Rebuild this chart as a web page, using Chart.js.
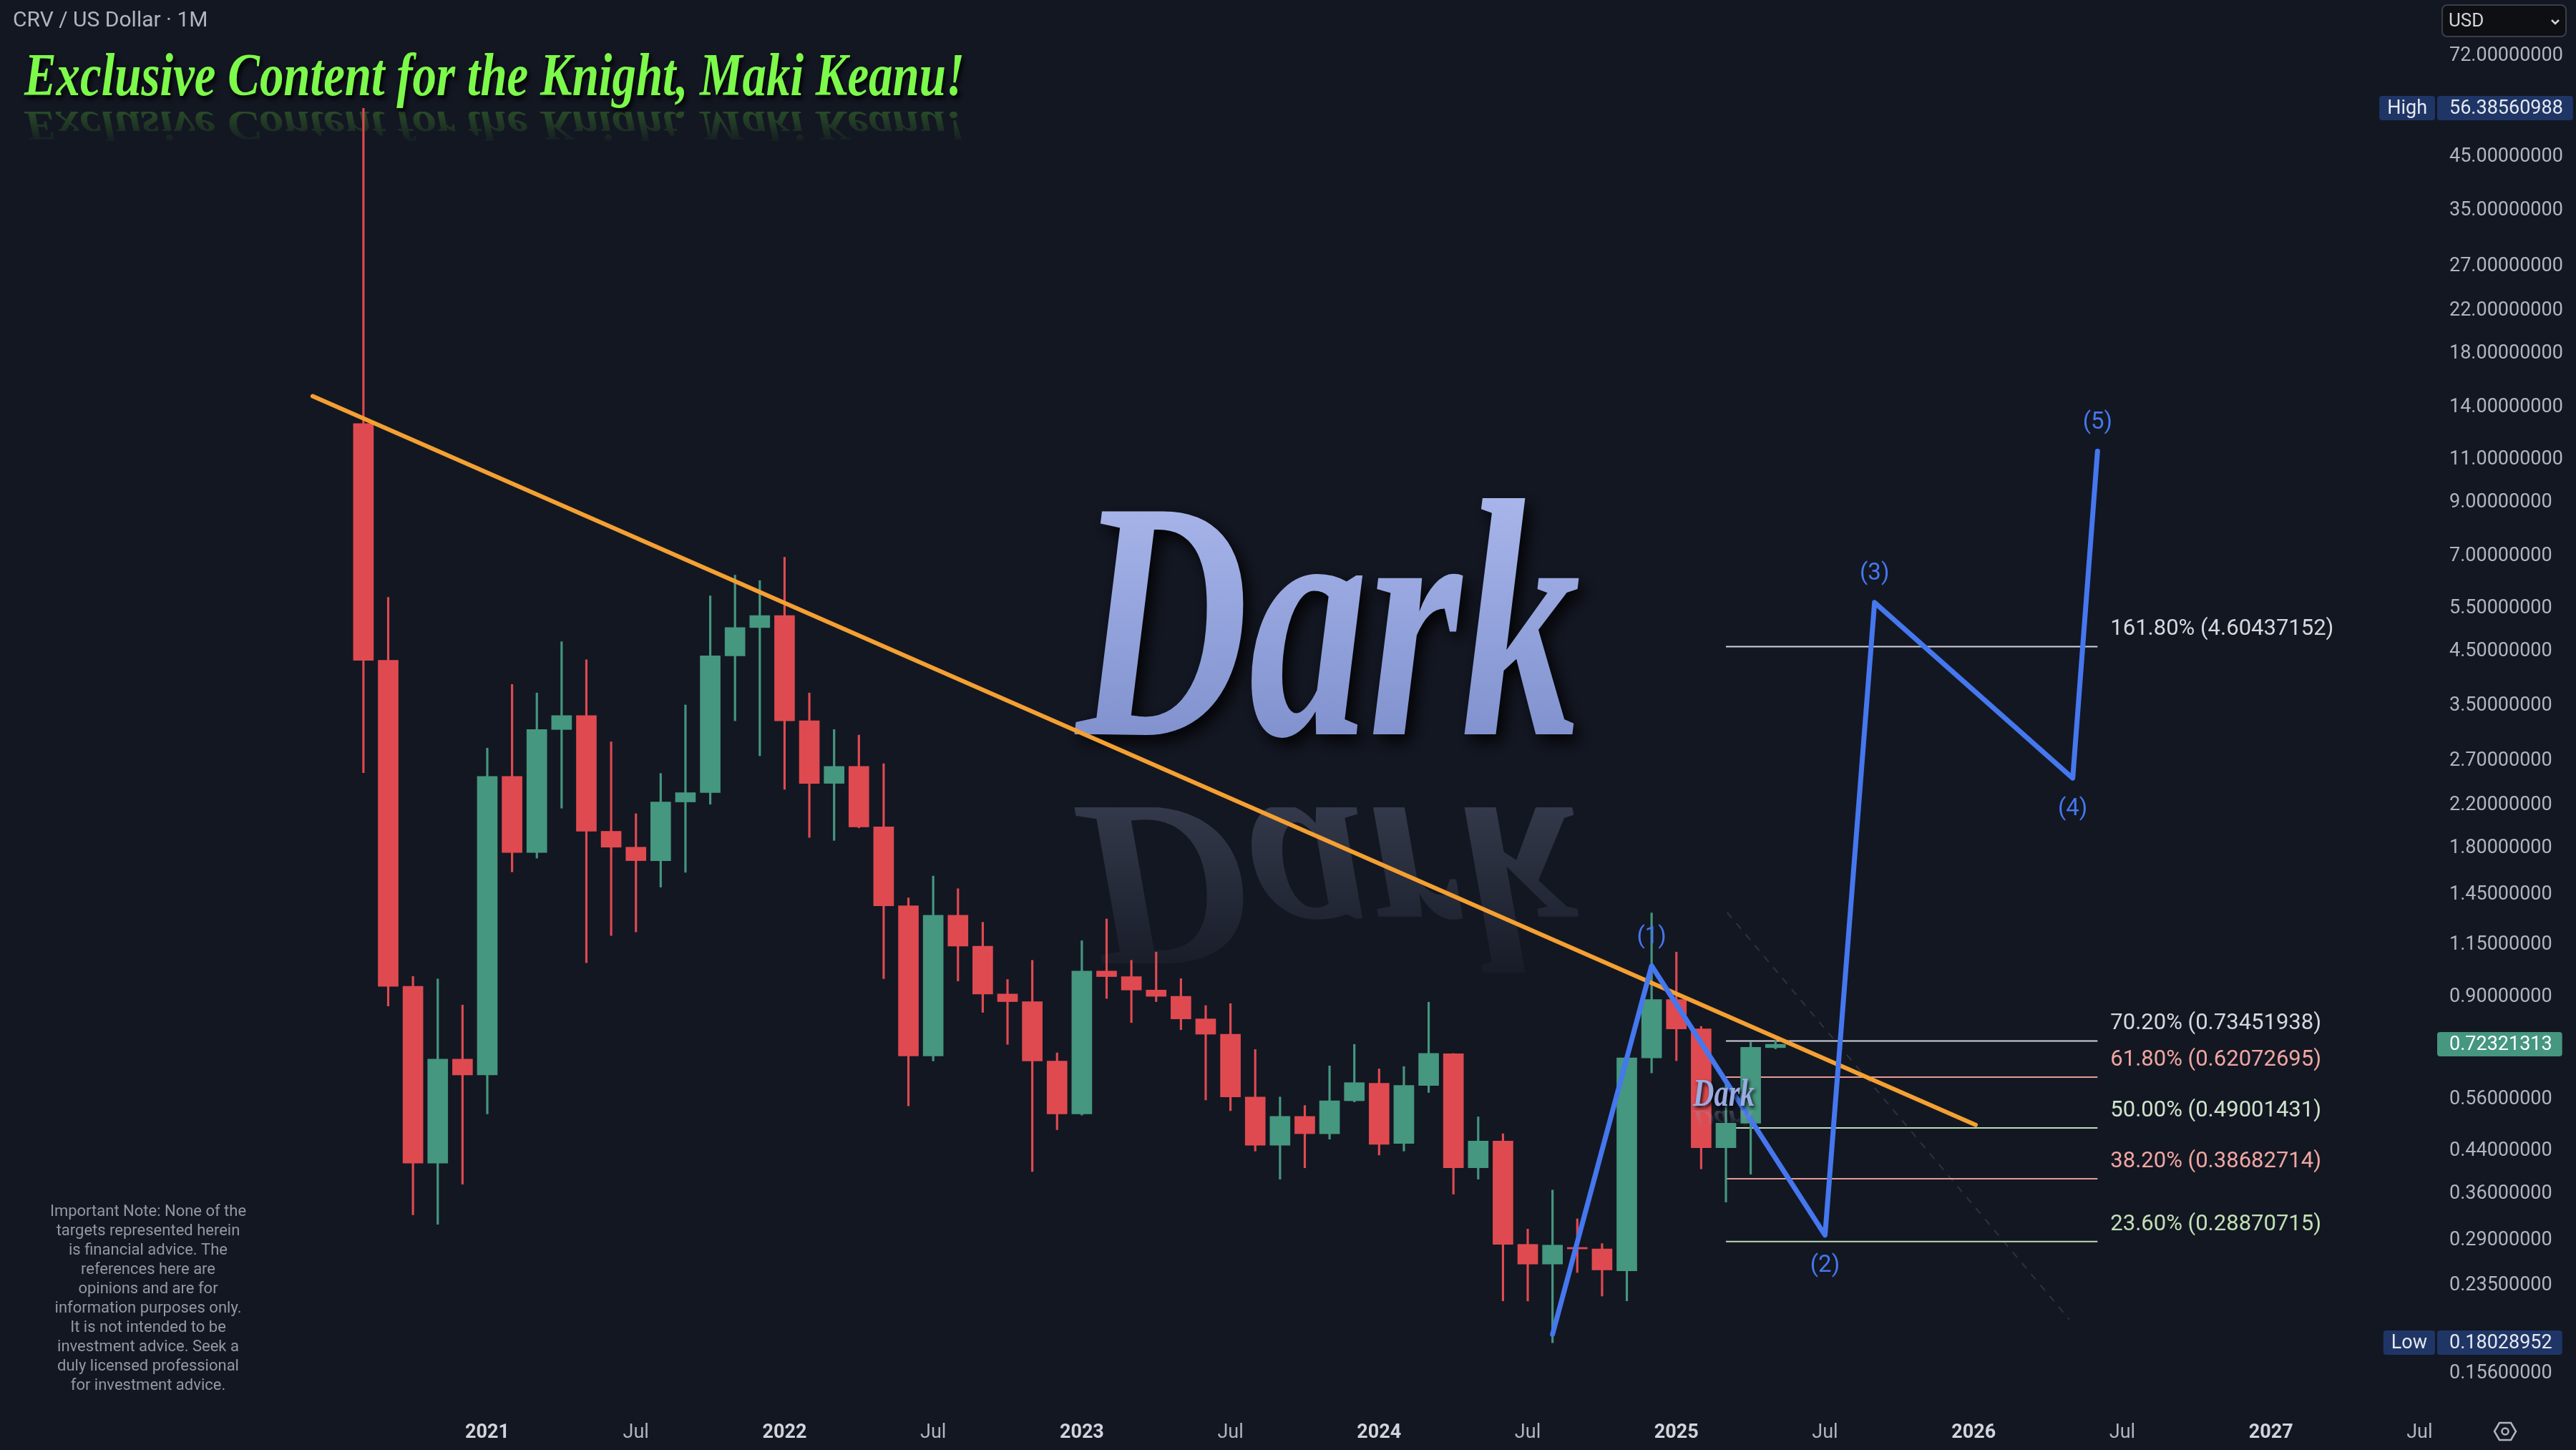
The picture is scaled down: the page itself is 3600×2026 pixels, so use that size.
<!DOCTYPE html>
<html>
<head>
<meta charset="utf-8">
<title>CRV / US Dollar · 1M</title>
<script src="https://cdn.jsdelivr.net/npm/chart.js@4.4.1/dist/chart.umd.min.js"></script>
<style>
  html, body { margin: 0; padding: 0; background: #131722; overflow: hidden; }
  #wrap { position: relative; width: 3600px; height: 2026px; }
</style>
</head>
<body>
<div id="wrap"><canvas id="chart"></canvas></div>
<script>
// Monthly candles, CRV / USD (index 0 = Aug 2020)
const months = [
  '2020-08','2020-09','2020-10','2020-11','2020-12',
  '2021-01','2021-02','2021-03','2021-04','2021-05','2021-06','2021-07','2021-08','2021-09','2021-10','2021-11','2021-12',
  '2022-01','2022-02','2022-03','2022-04','2022-05','2022-06','2022-07','2022-08','2022-09','2022-10','2022-11','2022-12',
  '2023-01','2023-02','2023-03','2023-04','2023-05','2023-06','2023-07','2023-08','2023-09','2023-10','2023-11','2023-12',
  '2024-01','2024-02','2024-03','2024-04','2024-05','2024-06','2024-07','2024-08','2024-09','2024-10','2024-11','2024-12',
  '2025-01','2025-02','2025-03','2025-04','2025-05'
];
const opens = [
  13.0, 4.32, 0.947, 0.416, 0.675,
  0.627, 2.516, 1.765, 3.13, 3.34, 1.949, 1.81, 1.70, 2.234, 2.333, 4.41, 5.03,
  5.32, 3.26, 2.436, 2.636, 1.989, 1.378, 0.685, 1.319, 1.142, 0.914, 0.882, 0.669,
  0.523, 1.017, 0.991, 0.931, 0.904, 0.814, 0.758, 0.566, 0.452, 0.517, 0.477, 0.556,
  0.603, 0.456, 0.597, 0.692, 0.407, 0.461, 0.285, 0.260, 0.281, 0.279, 0.252, 0.679,
  0.891, 0.777, 0.447, 0.501, 0.712
];
const highs = [
  56.38560988, 5.79, 0.992, 0.98, 0.868,
  2.87, 3.86, 3.71, 4.71, 4.33, 2.955, 2.115, 2.551, 3.51, 5.83, 6.42, 6.26,
  6.98, 3.71, 3.13, 3.05, 2.67, 1.43, 1.583, 1.492, 1.276, 0.978, 1.069, 0.695,
  1.171, 1.296, 1.069, 1.111, 0.982, 0.866, 0.874, 0.706, 0.566, 0.544, 0.654, 0.723,
  0.645, 0.652, 0.880, 0.693, 0.516, 0.477, 0.306, 0.367, 0.321, 0.286, 0.679, 1.333,
  1.111, 0.786, 0.60, 0.730, 0.735
];
const lows = [
  2.56, 0.864, 0.327, 0.313, 0.377,
  0.523, 1.614, 1.72, 2.17, 1.057, 1.20, 1.22, 1.503, 1.61, 2.21, 3.26, 2.77,
  2.37, 1.894, 1.868, 1.98, 0.982, 0.543, 0.669, 0.971, 0.839, 0.723, 0.400, 0.486,
  0.52, 0.895, 0.800, 0.882, 0.774, 0.558, 0.531, 0.44, 0.386, 0.407, 0.465, 0.553,
  0.432, 0.44, 0.578, 0.360, 0.386, 0.219, 0.219, 0.18028952, 0.250, 0.224, 0.219, 0.633,
  0.67, 0.405, 0.347, 0.395, 0.708
];
const closes = [
  4.32, 0.947, 0.416, 0.675, 0.627,
  2.516, 1.765, 3.13, 3.34, 1.949, 1.81, 1.70, 2.234, 2.333, 4.41, 5.03, 5.32,
  3.26, 2.436, 2.636, 1.989, 1.378, 0.685, 1.319, 1.142, 0.914, 0.882, 0.669, 0.523,
  1.017, 0.991, 0.931, 0.904, 0.814, 0.758, 0.566, 0.452, 0.517, 0.477, 0.556, 0.605,
  0.454, 0.597, 0.693, 0.407, 0.461, 0.285, 0.260, 0.284, 0.279, 0.253, 0.679, 0.891,
  0.777, 0.447, 0.501, 0.713, 0.72321313
];

// Time axis labels (positions in candle index)
const xTickPos = [5, 11, 17, 23, 29, 35, 41, 47, 53, 59, 65, 71, 77, 83];
const xTickText = ['2021', 'Jul', '2022', 'Jul', '2023', 'Jul', '2024', 'Jul', '2025', 'Jul', '2026', 'Jul', '2027', 'Jul'];

// Price axis labels
const yTicks = [72, 45, 35, 27, 22, 18, 14, 11, 9, 7, 5.5, 4.5, 3.5, 2.7, 2.2, 1.8, 1.45, 1.15,
  0.9, 0.7, 0.56, 0.44, 0.36, 0.29, 0.235, 0.18, 0.156];

// Descending trendline
const trendX = [-2.05, 65.08];
const trendY = [14.77, 0.497];

// Elliott wave projection
const waveX = [48, 52, 59, 61, 69, 70];
const waveY = [0.1875, 1.042, 0.2974, 5.653, 2.496, 11.43];
const waveLabels = ['', '(1)', '(2)', '(3)', '(4)', '(5)'];

// Fibonacci levels
const fibRatios = [1.618, 0.702, 0.618, 0.5, 0.382, 0.236];
const fibValues = [4.60437152, 0.73451938, 0.62072695, 0.49001431, 0.38682714, 0.28870715];
const fibX = [55, 70];

// faint dashed guide
const guideX = [55.05, 68.86];
const guideY = [1.336, 0.201];

const disclaimer = [
  'Important Note: None of the',
  'targets represented herein',
  'is financial advice. The',
  'references here are',
  'opinions and are for',
  'information purposes only.',
  'It is not intended to be',
  'investment advice. Seek a',
  'duly licensed professional',
  'for investment advice.'
];

const BG = '#131722';
const RED = '#DF4A50';
const GREEN = '#45977F';
const ORANGE = '#F4A032';
const BLUE = '#4577EE';
const AXIS_TXT = '#b2b5be';
const fibLineColors = ['#d1d4dc', '#d1d4dc', '#e89a97', '#bcdcb6', '#e89a97', '#bcdcb6'];
const fibTextColors = ['#d6d8de', '#d6d8de', '#f0a6a2', '#cfe3cb', '#f0a6a2', '#c2e0b6'];

const candleColors = closes.map((c, i) => c >= opens[i] ? GREEN : RED);
const wicks = months.map((m, i) => ({ x: i, y: [lows[i], highs[i]] }));
const bodies = months.map((m, i) => ({ x: i, y: [Math.min(opens[i], closes[i]), Math.max(opens[i], closes[i])] }));

const fibDatasets = fibValues.map((v, k) => ({
  type: 'line',
  label: 'fib ' + fibRatios[k],
  data: fibX.map(x => ({ x: x, y: v })),
  borderColor: fibLineColors[k],
  borderWidth: 2,
  pointRadius: 0,
  order: 20
}));

// text with a given cap height, squeezed to a width
function fitText(ctx, text, family, capH, width) {
  const size = capH / 0.66;
  ctx.font = 'italic bold ' + size + 'px ' + family;
  const w = ctx.measureText(text).width;
  return width / w;
}

function scriptText(ctx, text, left, base, capH, width, fill, shadow, reflect) {
  const sx = fitText(ctx, text, '"Liberation Serif"', capH, width);
  if (reflect) {
    ctx.save();
    ctx.beginPath();
    ctx.rect(0, reflect.y, 3600, 2026);
    ctx.clip();
    ctx.translate(left, reflect.y);
    ctx.scale(sx, -reflect.k);
    const g = ctx.createLinearGradient(0, 0, 0, -capH * 1.15);
    g.addColorStop(0, reflect.c0);
    g.addColorStop(1, reflect.c1);
    ctx.fillStyle = g;
    ctx.fillText(text, 0, 0);
    ctx.restore();
  }
  ctx.save();
  ctx.translate(left, base);
  ctx.scale(sx, 1);
  ctx.shadowColor = shadow.color;
  ctx.shadowBlur = shadow.blur;
  ctx.shadowOffsetX = shadow.dx;
  ctx.shadowOffsetY = shadow.dy;
  ctx.fillStyle = typeof fill === 'function' ? fill(ctx) : fill;
  ctx.fillText(text, 0, 0);
  ctx.restore();
}

const backgroundPlugin = {
  id: 'bg',
  beforeDraw(chart) {
    const ctx = chart.ctx;
    ctx.save();
    ctx.fillStyle = BG;
    ctx.fillRect(0, 0, chart.width, chart.height);
    ctx.restore();
  }
};

const decorPlugin = {
  id: 'decor',
  beforeDatasetsDraw(chart) {
    const ctx = chart.ctx;
    ctx.save();
    // symbol header
    ctx.font = '30px Roboto';
    ctx.fillStyle = AXIS_TXT;
    ctx.textBaseline = 'middle';
    ctx.textAlign = 'left';
    ctx.fillText('CRV / US Dollar · 1M', 18, 29);

    // green headline with reflection
    ctx.textBaseline = 'alphabetic';
    scriptText(ctx, 'Exclusive Content for the Knight, Maki Keanu!', 34, 133, 56, 1314, '#7CF94A',
      { color: 'rgba(0,0,0,0.9)', blur: 6, dx: 3, dy: 5 },
      { y: 156, k: 0.7, c0: 'rgba(80,170,50,0.35)', c1: 'rgba(80,170,50,0.02)' });

    // big "Dark" watermark
    scriptText(ctx, 'Dark', 1504, 1026, 314, 705,
      (c) => { const g = c.createLinearGradient(0, -330, 0, 20); g.addColorStop(0, '#a7b5ea'); g.addColorStop(1, '#7f90cd'); return g; },
      { color: 'rgba(0,0,0,0.9)', blur: 22, dx: 8, dy: 10 },
      { y: 1128, k: 0.7, c0: 'rgba(120,128,160,0.32)', c1: 'rgba(120,128,160,0.02)' });

    // disclaimer
    ctx.font = '22px Roboto';
    ctx.fillStyle = '#9598a1';
    ctx.textAlign = 'center';
    ctx.textBaseline = 'middle';
    disclaimer.forEach((line, k) => ctx.fillText(line, 207, 1693 + k * 27));
    ctx.restore();
  },
  afterDatasetsDraw(chart) {
    const ctx = chart.ctx;
    const xs = chart.scales.x, ys = chart.scales.y;
    ctx.save();
    // wave labels
    ctx.font = '33px Roboto';
    ctx.fillStyle = BLUE;
    ctx.textAlign = 'center';
    ctx.textBaseline = 'middle';
    waveLabels.forEach((t, k) => {
      if (!t) return;
      const px = xs.getPixelForValue(waveX[k]);
      const py = ys.getPixelForValue(waveY[k]);
      const peak = k % 2 === 1;
      ctx.fillText(t, px, peak ? py - 40 : py + 43);
    });
    // fib labels
    ctx.font = '31px Roboto';
    ctx.textAlign = 'left';
    fibValues.forEach((v, k) => {
      const px = xs.getPixelForValue(fibX[1]) + 18;
      const py = ys.getPixelForValue(v) - 24;
      ctx.fillStyle = fibTextColors[k];
      ctx.fillText((fibRatios[k] * 100).toFixed(2) + '% (' + v.toFixed(8) + ')', px, py);
    });
    // small "Dark" stamp
    ctx.textBaseline = 'alphabetic';
    scriptText(ctx, 'Dark', 2366, 1545, 36, 86, '#9aabe2',
      { color: 'rgba(0,0,0,0.9)', blur: 5, dx: 2, dy: 3 },
      { y: 1552, k: 0.6, c0: 'rgba(150,150,170,0.35)', c1: 'rgba(150,150,170,0.0)' });
    ctx.restore();
  },
  afterDraw(chart) {
    const ctx = chart.ctx;
    const ys = chart.scales.y;
    const area = chart.chartArea;
    ctx.save();
    ctx.font = '27px Roboto';
    ctx.textBaseline = 'middle';

    function tag(value, bg, fg, caption) {
      const y = Math.round(ys.getPixelForValue(value));
      const text = value.toFixed(8);
      const w = ctx.measureText(text).width;
      const left = area.right + 8;
      ctx.fillStyle = bg;
      ctx.beginPath();
      ctx.roundRect(left, y - 17, w + 31, 34, 4);
      ctx.fill();
      ctx.fillStyle = fg;
      ctx.textAlign = 'left';
      ctx.fillText(text, area.right + 25, y + 1);
      if (caption) {
        const cw = ctx.measureText(caption).width + 22;
        ctx.fillStyle = bg;
        ctx.beginPath();
        ctx.roundRect(left - cw - 3, y - 17, cw, 34, 4);
        ctx.fill();
        ctx.fillStyle = fg;
        ctx.textAlign = 'center';
        ctx.fillText(caption, left - 3 - cw / 2, y + 1);
      }
    }
    tag(Math.max(...highs), '#1e3566', '#e6e8ee', 'High');
    tag(Math.min(...lows), '#1e3566', '#e6e8ee', 'Low');
    tag(closes[closes.length - 1], GREEN, '#ffffff');

    // currency selector
    ctx.fillStyle = '#0e0f13';
    ctx.strokeStyle = '#3a3e48';
    ctx.lineWidth = 2;
    ctx.beginPath();
    ctx.roundRect(3413, 7, 173, 44, 7);
    ctx.fill();
    ctx.stroke();
    ctx.fillStyle = '#d1d4dc';
    ctx.textAlign = 'left';
    ctx.font = '26px Roboto';
    ctx.fillText('USD', 3422, 30);
    ctx.strokeStyle = '#d1d4dc';
    ctx.lineWidth = 2.5;
    ctx.beginPath();
    ctx.moveTo(3566, 28); ctx.lineTo(3571, 33); ctx.lineTo(3576, 28);
    ctx.stroke();

    // settings icon
    const cx = 3501, cy = 2000;
    ctx.strokeStyle = '#b2b5be';
    ctx.lineWidth = 2.5;
    ctx.beginPath();
    ctx.moveTo(cx - 15, cy); ctx.lineTo(cx - 8, cy - 12); ctx.lineTo(cx + 8, cy - 12);
    ctx.lineTo(cx + 15, cy); ctx.lineTo(cx + 8, cy + 12); ctx.lineTo(cx - 8, cy + 12);
    ctx.closePath();
    ctx.stroke();
    ctx.beginPath();
    ctx.arc(cx, cy, 4.5, 0, Math.PI * 2);
    ctx.stroke();
    ctx.restore();
  }
};

const chart = new Chart(document.getElementById('chart'), {
  type: 'bar',
  data: {
    datasets: [
      {
        type: 'line', label: 'wave',
        data: waveX.map((x, k) => ({ x: x, y: waveY[k] })),
        borderColor: BLUE, borderWidth: 7, pointRadius: 0,
        borderCapStyle: 'round', borderJoinStyle: 'round', order: 0
      },
      {
        type: 'line', label: 'trend',
        data: trendX.map((x, k) => ({ x: x, y: trendY[k] })),
        borderColor: ORANGE, borderWidth: 6, pointRadius: 0,
        borderCapStyle: 'round', order: 1
      },
      {
        type: 'bar', label: 'body', data: bodies,
        backgroundColor: candleColors, barThickness: 28, minBarLength: 2,
        grouped: false, order: 2
      },
      {
        type: 'bar', label: 'wick', data: wicks,
        backgroundColor: candleColors, barThickness: 2.5,
        grouped: false, order: 3
      },
      ...fibDatasets,
      {
        type: 'line', label: 'guide',
        data: guideX.map((x, k) => ({ x: x, y: guideY[k] })),
        borderColor: 'rgba(95,100,120,0.35)', borderWidth: 2, borderDash: [10, 10],
        pointRadius: 0, order: 30
      }
    ]
  },
  options: {
    responsive: true,
    maintainAspectRatio: false,
    devicePixelRatio: 1,
    animation: false,
    events: [],
    layout: { padding: 0 },
    plugins: { legend: { display: false }, tooltip: { enabled: false } },
    scales: {
      x: {
        type: 'linear',
        min: -14.67,
        max: 83.48,
        offset: false,
        bounds: 'data',
        grid: { display: false, drawTicks: false },
        border: { display: false },
        afterBuildTicks: (scale) => { scale.ticks = xTickPos.map(v => ({ value: v })); },
        afterFit: (scale) => {
          scale.height = 61;
          scale.paddingLeft = 0; scale.paddingRight = 0;
          scale.paddingTop = 0; scale.paddingBottom = 0;
        },
        ticks: {
          autoSkip: false,
          maxRotation: 0,
          padding: 21,
          color: (c) => (c.tick && xTickText[xTickPos.indexOf(c.tick.value)] !== 'Jul') ? '#d1d4dc' : AXIS_TXT,
          font: (c) => ({
            family: 'Roboto', size: 27,
            weight: (c.tick && xTickText[xTickPos.indexOf(c.tick.value)] !== 'Jul') ? 'bold' : 'normal'
          }),
          callback: (v) => xTickText[xTickPos.indexOf(v)]
        }
      },
      y: {
        type: 'logarithmic',
        position: 'right',
        min: 0.1341,
        max: 93.36,
        bounds: 'data',
        grid: { display: false, drawTicks: false },
        border: { display: false },
        afterBuildTicks: (scale) => { scale.ticks = yTicks.map(v => ({ value: v })); },
        afterFit: (scale) => {
          scale.width = 202;
          scale.paddingLeft = 0; scale.paddingRight = 0;
          scale.paddingTop = 0; scale.paddingBottom = 0;
        },
        ticks: {
          autoSkip: false,
          padding: 25,
          crossAlign: 'near',
          color: AXIS_TXT,
          font: { family: 'Roboto', size: 27 },
          callback: (v) => Number(v).toFixed(8)
        }
      }
    }
  },
  plugins: [backgroundPlugin, decorPlugin]
});
</script>
</body>
</html>
